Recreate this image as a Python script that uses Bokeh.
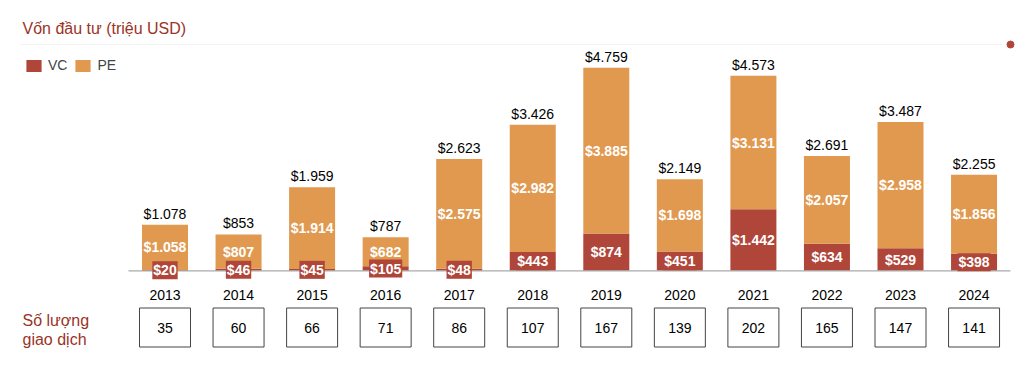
from bokeh.plotting import figure
from bokeh.models import ColumnDataSource, Legend, LegendItem, Label
from bokeh.core.properties import value
from bokeh.embed import file_html
from bokeh.resources import INLINE

years = ["2013", "2014", "2015", "2016", "2017", "2018", "2019", "2020", "2021", "2022", "2023", "2024"]
vc = [20, 46, 45, 105, 48, 443, 874, 451, 1442, 634, 529, 398]
pe = [1058, 807, 1914, 682, 2575, 2982, 3885, 1698, 3131, 2057, 2958, 1856]
total = [1078, 853, 1959, 787, 2623, 3426, 4759, 2149, 4573, 2691, 3487, 2255]
deals = [35, 60, 66, 71, 86, 107, 167, 139, 202, 165, 147, 141]

VC_COLOR = "#b0463a"
PE_COLOR = "#e0994f"
RED_TEXT = "#9b3328"
FONT = "Liberation Sans"

W, H = 1016, 360
STEP = 73.55          # px between bar centres
X0 = 164.5            # px of first bar centre
BASE = 270.3          # px from top of baseline
U = 4759 / 203.0      # data units per px


def X(px):
    return (px - X0) / STEP


def Y(py):
    return (BASE - py) * U


def fmt(v):
    return "$" + f"{v:,}".replace(",", ".")


p = figure(width=W, height=H, output_backend="svg", toolbar_location=None,
           x_range=(-X0 / STEP, (W - X0) / STEP),
           y_range=(-(H - BASE) * U, BASE * U),
           min_border=0, outline_line_color=None)
p.xaxis.visible = False
p.yaxis.visible = False
p.grid.visible = False
p.background_fill_color = "white"

xs = list(range(len(years)))
src = ColumnDataSource(dict(
    x=xs, year=years, vc=vc, pe=pe, total=total, deals=[str(d) for d in deals],
    vc_lbl=[fmt(v) for v in vc], pe_lbl=[fmt(v) for v in pe], tot_lbl=[fmt(v) for v in total],
    vc_mid=[v / 2 for v in vc], pe_mid=[v + q / 2 for v, q in zip(vc, pe)],
    tot_y=[t + 3 * U for t in total],
    year_y=[Y(294)] * len(years), box_y=[Y(327)] * len(years),
))

# title rule and dot
p.segment(x0=[X(20)], y0=[Y(44)], x1=[X(1002)], y1=[Y(44)], line_color="#e6e6e6",
          line_width=1, line_dash="1 1")
p.scatter(x=[X(1010)], y=[Y(44)], size=7, color=VC_COLOR)

bars = p.vbar_stack(["vc", "pe"], x="x", width=46 / STEP, source=src,
                    color=[VC_COLOR, PE_COLOR], line_color=None)

# baseline
p.segment(x0=[X(128)], y0=[0], x1=[X(1010)], y1=[0], line_color="#aaaaaa", line_width=1.2)

p.text(x="x", y="pe_mid", text="pe_lbl", source=src, text_align="center",
       text_baseline="middle", text_color="white", text_font=value(FONT),
       text_font_size="14px", text_font_style="bold")
p.text(x="x", y="vc_mid", text="vc_lbl", source=src, text_align="center",
       text_baseline="middle", text_color="white", text_font=value(FONT),
       text_font_size="14px", text_font_style="bold",
       background_fill_color=VC_COLOR, padding=1)
p.text(x="x", y="tot_y", text="tot_lbl", source=src, text_align="center",
       text_baseline="bottom", text_color="black", text_font=value(FONT),
       text_font_size="14px")

# year labels and deal boxes
p.text(x="x", y="year_y", text="year", source=src, text_align="center",
       text_baseline="middle", text_color="black", text_font=value(FONT),
       text_font_size="14px")
p.rect(x="x", y="box_y", width=51, height=39, width_units="screen", height_units="screen",
       source=src, fill_color="white", line_color="#444444", line_width=1)
p.text(x="x", y="box_y", text="deals", source=src, text_align="center",
       text_baseline="middle", text_color="black", text_font=value(FONT),
       text_font_size="14px")

# titles
p.add_layout(Label(x=X(22), y=Y(28), text="Vốn đầu tư (triệu USD)", text_color=RED_TEXT,
                   text_font=FONT, text_font_size="16px", text_baseline="middle"))
p.add_layout(Label(x=X(22), y=Y(320), text="Số lượng", text_color=RED_TEXT,
                   text_font=FONT, text_font_size="16px", text_baseline="middle"))
p.add_layout(Label(x=X(22), y=Y(339), text="giao dịch", text_color=RED_TEXT,
                   text_font=FONT, text_font_size="16px", text_baseline="middle"))

legend = Legend(items=[LegendItem(label="VC", renderers=[bars[0]]),
                       LegendItem(label="PE", renderers=[bars[1]])],
                orientation="horizontal", location=(24, H - 73),
                glyph_width=19, glyph_height=15, label_text_font=FONT,
                label_text_font_size="14px", label_standoff=5, spacing=6,
                label_width=10,
                padding=0, margin=0, border_line_alpha=0, background_fill_alpha=0,
                label_height=15)
p.add_layout(legend)

open("out.html", "w").write(file_html(p, INLINE))
